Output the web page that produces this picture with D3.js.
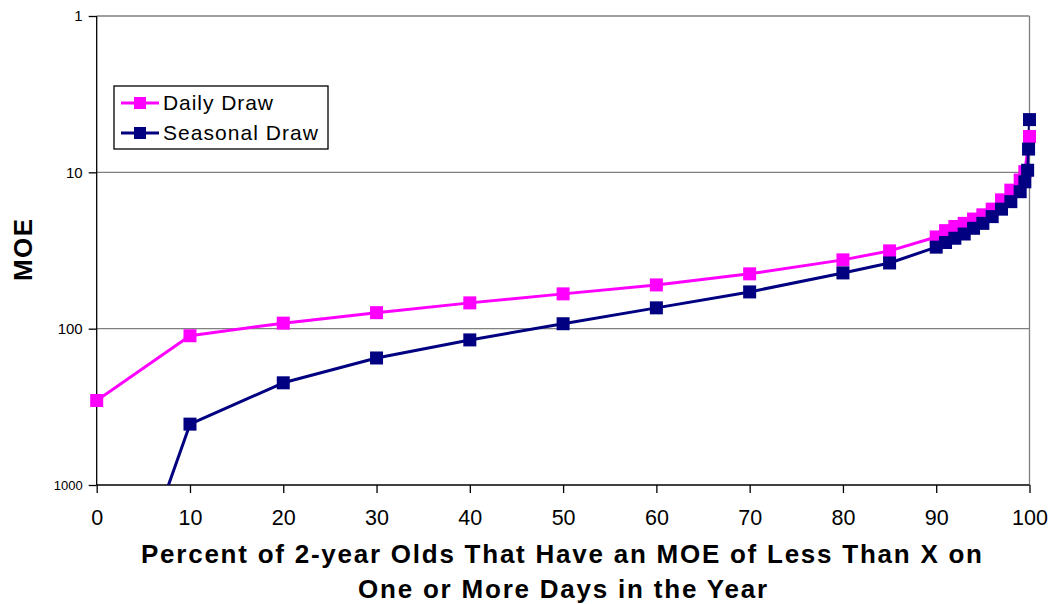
<!DOCTYPE html>
<html>
<head>
<meta charset="utf-8">
<script src="https://cdn.jsdelivr.net/npm/d3@7/dist/d3.min.js"></script>
<style>
  html, body { margin: 0; padding: 0; background: #fff; }
  svg { display: block; font-family: "Liberation Sans", Arial, sans-serif; }
</style>
</head>
<body>
<svg id="chart" width="1050" height="604"></svg>
<script>
// Percent of 2-year olds (x) and MOE values for each draw scenario
const percent = [0, 10, 20, 30, 40, 50, 60, 70, 80, 85, 90, 91, 92, 93, 94, 95, 96, 97, 98, 99, 99.5, 100];
const dailyDraw = [288, 111, 92.2, 79, 68.4, 59.9, 52.5, 44.6, 36.3, 31.8, 25.9, 23.6, 22.2, 21.2, 19.9, 18.7, 17.2, 15.0, 13.0, 11.2, 9.9, 5.9];

const seasonalPercent = [0, 10, 20, 30, 40, 50, 60, 70, 80, 85, 90, 91, 92, 93, 94, 95, 96, 97, 98, 99, 99.5, 99.8, 99.9, 100];
const seasonalDraw = [20000, 408, 222, 154, 118, 93, 73.6, 58.2, 44, 38, 30.1, 28.1, 26.4, 24.8, 22.8, 21.2, 19.2, 17.2, 15.4, 13.3, 11.5, 9.7, 7.1, 4.6];

const xTicks = [0, 10, 20, 30, 40, 50, 60, 70, 80, 90, 100];
const yTicks = [1, 10, 100, 1000];

const series = [
  { name: "Daily Draw", color: "#FF00FF", xs: percent, ys: dailyDraw, labelWidth: 110 },
  { name: "Seasonal Draw", color: "#000080", xs: seasonalPercent, ys: seasonalDraw, labelWidth: 155 }
];

const svg = d3.select("#chart");
const plot = { left: 96.7, right: 1029.5, top: 16, bottom: 485 };

const x = d3.scaleLinear().domain([0, 100]).range([plot.left, plot.right]);
// MOE axis runs from 1 at the top down to 1000 at the bottom
const y = d3.scaleLog().domain([1, 1000]).range([plot.top, plot.bottom]);

svg.append("defs").append("clipPath").attr("id", "plotClip")
  .append("rect")
  .attr("x", plot.left).attr("y", plot.top)
  .attr("width", plot.right - plot.left).attr("height", plot.bottom - plot.top);

// Gridlines and plot frame
svg.append("g").selectAll("line")
  .data(yTicks.filter(d => d !== 1000))
  .join("line")
  .attr("x1", plot.left).attr("x2", plot.right)
  .attr("y1", d => y(d)).attr("y2", d => y(d))
  .attr("stroke", "#808080").attr("stroke-width", 1.3);
svg.append("line")
  .attr("x1", plot.right).attr("x2", plot.right)
  .attr("y1", plot.top).attr("y2", plot.bottom)
  .attr("stroke", "#808080").attr("stroke-width", 1.3);

// Axes
const xAxis = d3.axisBottom(x).tickValues(xTicks).tickSize(8).tickPadding(17).tickFormat(d3.format("d"));
const gx = svg.append("g").attr("transform", `translate(0,${plot.bottom})`).call(xAxis);
gx.select(".domain").attr("stroke", "#000").attr("stroke-width", 1.3).attr("d", `M${plot.left},0H${plot.right}`);
gx.selectAll(".tick line").attr("stroke", "#000").attr("stroke-width", 1.3);
gx.selectAll(".tick text").attr("font-size", 21.5).attr("fill", "#000")
  .attr("font-family", "'Liberation Sans', Arial, sans-serif");

const yAxis = d3.axisLeft(y).tickValues(yTicks).tickSize(8).tickPadding(6).tickFormat(d3.format("d"));
const gy = svg.append("g").attr("transform", `translate(${plot.left},0)`).call(yAxis);
gy.select(".domain").attr("stroke", "#000").attr("stroke-width", 1.3).attr("d", `M0,${plot.top}V${plot.bottom}`);
gy.selectAll(".tick line").attr("stroke", "#000").attr("stroke-width", 1.3);
gy.selectAll(".tick text").attr("font-size", d => d === 1000 ? 13 : 15).attr("fill", "#000")
  .attr("font-family", "'Liberation Sans', Arial, sans-serif");

// Series lines and square markers
const line = d3.line().x(d => x(d[0])).y(d => y(d[1]));
const markerSize = 13;
const plotLayer = svg.append("g").attr("clip-path", "url(#plotClip)");
const markerLayer = svg.append("g");

series.forEach(s => {
  const pts = s.xs.map((v, i) => [v, s.ys[i]]);
  plotLayer.append("path")
    .datum(pts)
    .attr("d", line)
    .attr("fill", "none")
    .attr("stroke", s.color)
    .attr("stroke-width", 3)
    .attr("stroke-linejoin", "round");
});
series.forEach(s => {
  const pts = s.xs.map((v, i) => [v, s.ys[i]]).filter(d => d[1] <= 1000);
  markerLayer.append("g").selectAll("rect")
    .data(pts)
    .join("rect")
    .attr("x", d => x(d[0]) - markerSize / 2)
    .attr("y", d => y(d[1]) - markerSize / 2)
    .attr("width", markerSize).attr("height", markerSize)
    .attr("fill", s.color);
});

// Axis titles
svg.append("text")
  .attr("transform", "translate(32,250) rotate(-90)")
  .attr("text-anchor", "middle")
  .attr("font-size", 26).attr("font-weight", "bold")
  .attr("textLength", 62).attr("lengthAdjust", "spacing")
  .text("MOE");

const xTitle = svg.append("text")
  .attr("font-size", 26).attr("font-weight", "bold");
xTitle.append("tspan").attr("x", 141).attr("y", 563)
  .attr("textLength", 841).attr("lengthAdjust", "spacing")
  .text("Percent of 2-year Olds That Have an MOE of Less Than X on");
xTitle.append("tspan").attr("x", 358).attr("y", 598)
  .attr("textLength", 409).attr("lengthAdjust", "spacing")
  .text("One or More Days in the Year");

// Legend
const legend = svg.append("g");
legend.append("rect")
  .attr("x", 114).attr("y", 86).attr("width", 214).attr("height", 63)
  .attr("fill", "#fff").attr("stroke", "#000").attr("stroke-width", 1.3);
series.forEach((s, i) => {
  const cy = 103 + i * 30;
  legend.append("line")
    .attr("x1", 121).attr("x2", 159).attr("y1", cy).attr("y2", cy)
    .attr("stroke", s.color).attr("stroke-width", 3);
  legend.append("rect")
    .attr("x", 140 - 6).attr("y", cy - 6).attr("width", 12).attr("height", 12)
    .attr("fill", s.color);
  legend.append("text")
    .attr("x", 163).attr("y", cy + 7)
    .attr("font-size", 21)
    .attr("textLength", s.labelWidth).attr("lengthAdjust", "spacing")
    .text(s.name);
});
</script>
</body>
</html>
